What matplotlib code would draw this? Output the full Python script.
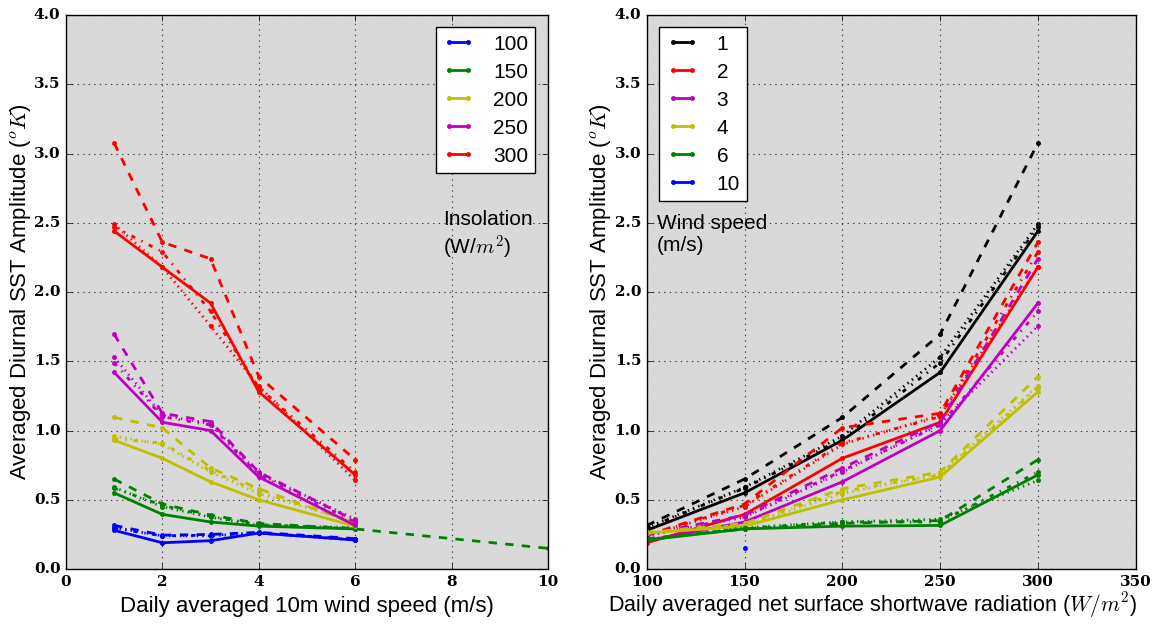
import numpy as np
import matplotlib
matplotlib.use('Agg')
import matplotlib.pyplot as plt

'''
Diurnal SST amplitude vs wind speed and vs insolation, 4 runs per case
'''
outFile = 'out.png'

wind = [1, 2, 3, 4, 6, 10]
insol = [100, 150, 200, 250, 300]
wind_names = ['1', '2', '3', '4', '6', '10']
insol_names = ['100', '150', '200', '250', '300']
nan = np.nan

# rows: insolation 100..300, columns: wind 1,2,3,4,6,10
amp_solid = [[0.28, 0.19, 0.205, 0.26, 0.21, nan],
             [0.55, 0.395, 0.34, 0.31, 0.29, nan],
             [0.93, 0.80, 0.63, 0.50, 0.31, nan],
             [1.42, 1.06, 1.00, 0.665, 0.315, nan],
             [2.44, 2.18, 1.92, 1.28, 0.68, nan]]
amp_dashed = [[0.315, 0.245, 0.25, 0.265, 0.22, nan],
              [0.65, 0.47, 0.39, 0.33, 0.29, 0.15],
              [1.095, 1.02, 0.73, 0.58, 0.33, nan],
              [1.695, 1.125, 1.065, 0.70, 0.35, nan],
              [3.075, 2.36, 2.24, 1.39, 0.79, nan]]
amp_dotted = [[0.30, 0.24, 0.24, 0.26, 0.21, nan],
              [0.59, 0.45, 0.375, 0.315, 0.30, nan],
              [0.96, 0.90, 0.70, 0.545, 0.34, nan],
              [1.53, 1.11, 1.05, 0.69, 0.36, nan],
              [2.49, 2.18, 1.755, 1.32, 0.64, nan]]
amp_dashdot = [[0.295, 0.24, 0.245, 0.26, 0.215, nan],
               [0.585, 0.46, 0.38, 0.32, 0.295, nan],
               [0.94, 0.91, 0.71, 0.56, 0.34, nan],
               [1.49, 1.10, 1.04, 0.68, 0.34, nan],
               [2.47, 2.29, 1.86, 1.31, 0.70, nan]]

runs = [amp_solid, amp_dashed, amp_dotted, amp_dashdot]
styles = ['-', '--', ':', '-.']
insol_cols = ['b', 'g', 'y', 'm', 'r']
wind_cols = ['k', 'r', 'm', 'y', 'g', 'b']

#-----------------------------------------------------------------------
plt.style.use('classic')
plt.rcParams['font.family'] = ['Liberation Sans', 'DejaVu Sans']
plt.rcParams['mathtext.fontset'] = 'cm'

ylab = r'Averaged Diurnal SST Amplitude ($^oK$)'
tickfont = dict(family='DejaVu Serif', weight='bold', size=11)
bg = '#d9d9d9'
legkw = dict(numpoints=2, fontsize=15, handlelength=1.5, borderpad=0.35,
             labelspacing=0.43, handletextpad=0.9, borderaxespad=0.6)

def styleAx(ax, ylx):
    ax.set_facecolor(bg)
    ax.grid(True, color='0.25', linestyle=':', linewidth=0.8)
    ax.set_axisbelow(True)
    ax.set_ylim(0, 4)
    ax.set_ylabel(ylab, fontsize=16)
    ax.yaxis.set_label_coords(ylx, 0.5)
    for lab in ax.get_xticklabels() + ax.get_yticklabels():
        lab.set_fontfamily(tickfont['family'])
        lab.set_fontweight(tickfont['weight'])
        lab.set_fontsize(tickfont['size'])

fig = plt.figure(figsize=(11.57, 6.24), dpi=100)
fig.patch.set_facecolor('white')

# left: vs wind speed, one colour per insolation
ax1 = fig.add_axes([0.057, 0.088, 0.4166, 0.888])
for i in range(len(insol)):
    for r, run in enumerate(runs):
        lab = insol_names[i] if r == 0 else None
        ax1.plot(wind, run[i], linestyle=styles[r], color=insol_cols[i],
                 marker='.', markersize=6, markeredgecolor=insol_cols[i],
                 linewidth=2, label=lab)
ax1.set_xlim(0, 10)
ax1.set_xticks(np.arange(0, 11, 2))
ax1.set_xlabel('Daily averaged 10m wind speed (m/s)', fontsize=16)
ax1.text(7.82, 2.59, 'Insolation\n(W/$m^2$)', fontsize=15, va='top', ha='left')
ax1.legend(loc='upper right', **legkw)
styleAx(ax1, -0.068)

# right: vs insolation, one colour per wind speed
ax2 = fig.add_axes([0.559, 0.088, 0.4226, 0.888])
for j in range(len(wind)):
    for r, run in enumerate(runs):
        vals = [run[i][j] for i in range(len(insol))]
        lab = wind_names[j] if r == 0 else None
        ax2.plot(insol, vals, linestyle=styles[r], color=wind_cols[j],
                 marker='.', markersize=6, markeredgecolor=wind_cols[j],
                 linewidth=2, label=lab)
ax2.set_xlim(100, 350)
ax2.set_xticks(np.arange(100, 351, 50))
ax2.set_xlabel(r'Daily averaged net surface shortwave radiation ($W/m^2$)', fontsize=15.5)
ax2.xaxis.set_label_coords(0.462, -0.038)
ax2.text(105.2, 2.56, 'Wind speed\n(m/s)', fontsize=15, va='top', ha='left')
ax2.legend(loc='upper left', **legkw)
styleAx(ax2, -0.07)

plt.savefig(outFile, dpi=100)
plt.close()
